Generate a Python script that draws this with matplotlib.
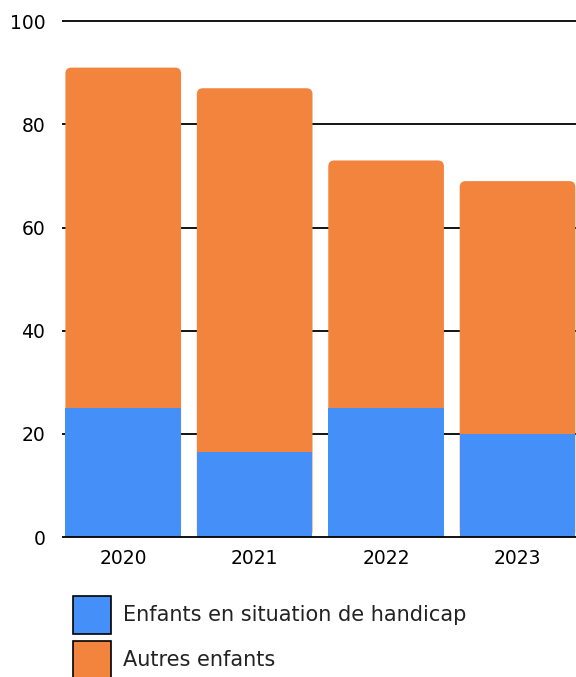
import matplotlib.pyplot as plt
from matplotlib.patches import FancyBboxPatch, Rectangle

years = ["2020", "2021", "2022", "2023"]
handicap = [25, 16.5, 25, 20]
autres = [66, 70.5, 48, 49]
labels = ["Enfants en situation de handicap", "Autres enfants"]
colors = ["#4590F8", "#F3843E"]

plt.rcParams['font.family'] = ['DejaVu Sans']

W, H = 576, 677
fig = plt.figure(figsize=(W / 100, H / 100), dpi=100)
ax = fig.add_axes([62 / W, 0.199, 1 - 62 / W, 0.984 - 0.199])

x = list(range(len(years)))
width = 0.88
totals = [h + a for h, a in zip(handicap, autres)]

ax.set_xlim(-0.466, 3.445)
ax.set_ylim(-1, 102)

# px per data unit, used to keep corner radius round
px_x = 131.5
px_y = 5.16
r = 6 / px_x

for xi, tot in zip(x, totals):
    box = FancyBboxPatch((xi - width / 2, 0), width, tot,
                         boxstyle=f"round,pad=0,rounding_size={r}",
                         mutation_aspect=px_x / px_y,
                         facecolor=colors[1], edgecolor='none', zorder=2)
    ax.add_patch(box)

ax.bar(x, handicap, width=width, color=colors[0], zorder=3)

for yv in range(0, 101, 20):
    ax.axhline(yv, color='black', lw=1.3, zorder=1 if yv else 4)

ax.set_xticks(x)
ax.set_xticklabels(years, fontsize=13.5)
ax.set_yticks(range(0, 101, 20))
ax.tick_params(axis='both', length=0, labelsize=13.5)
ax.tick_params(axis='y', pad=12)
ax.tick_params(axis='x', pad=5)
for s in ax.spines.values():
    s.set_visible(False)

# legend drawn by hand: square boxes below the chart
for i, (lab, col) in enumerate(zip(labels, colors)):
    top = 596 + i * 45
    fig.patches.append(Rectangle((73 / W, 1 - (top + 38) / H), 38 / W, 38 / H,
                                 transform=fig.transFigure, facecolor=col,
                                 edgecolor='black', lw=1.2))
    fig.text(123 / W, 1 - (top + 19) / H, lab, fontsize=15,
             ha='left', va='center', color='#222222')

fig.savefig('out.png', dpi=100)
